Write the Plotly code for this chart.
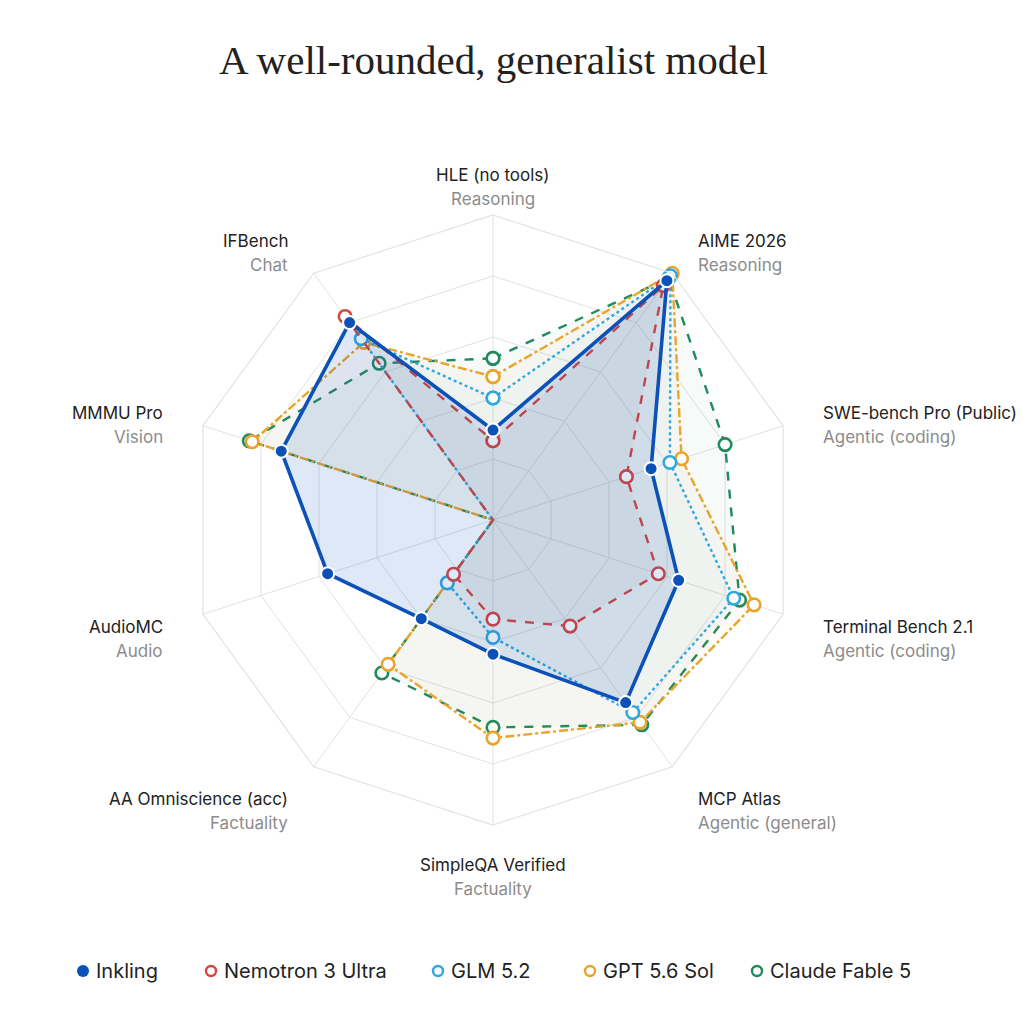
import math
import plotly.graph_objects as go

# ---------------- data ----------------
benchmarks = ["HLE (no tools)", "AIME 2026", "SWE-bench Pro (Public)", "Terminal Bench 2.1",
              "MCP Atlas", "SimpleQA Verified", "AA Omniscience (acc)", "AudioMC",
              "MMMU Pro", "IFBench"]
categories = ["Reasoning", "Reasoning", "Agentic (coding)", "Agentic (coding)",
              "Agentic (general)", "Factuality", "Factuality", "Audio", "Vision", "Chat"]

models = ["Inkling", "Nemotron 3 Ultra", "GLM 5.2", "GPT 5.6 Sol", "Claude Fable 5"]

# normalised scores (fraction of the outer ring)
inkling   = [0.295, 0.97, 0.545, 0.64, 0.74, 0.44, 0.40, 0.57, 0.73, 0.80]
nemotron  = [0.26, 0.95, 0.46, 0.57, 0.43, 0.325, 0.22, 0.0, 0.0, 0.825]
glm       = [0.40, 0.99, 0.61, 0.83, 0.78, 0.385, 0.255, 0.0, 0.0, 0.735]
gpt       = [0.47, 1.00, 0.65, 0.90, 0.82, 0.715, 0.585, 0.0, 0.83, 0.72]
claude    = [0.53, 0.98, 0.80, 0.85, 0.83, 0.68, 0.62, 0.0, 0.84, 0.635]

ring_vals = [0.2, 0.4, 0.6, 0.8, 1.0]

# ---------------- styles ----------------
colors = {
    "Inkling": "#0B51B8",
    "Nemotron 3 Ultra": "#D8453F",
    "GLM 5.2": "#2FA7E0",
    "GPT 5.6 Sol": "#E9A42B",
    "Claude Fable 5": "#1F8A5C",
}
fills = {
    "Inkling": "rgba(11,81,184,0.13)",
    "Nemotron 3 Ultra": "rgba(120,110,110,0.05)",
    "GLM 5.2": "rgba(47,167,224,0.035)",
    "GPT 5.6 Sol": "rgba(233,164,43,0.04)",
    "Claude Fable 5": "rgba(31,138,92,0.04)",
}
dashes = {
    "Inkling": "solid",
    "Nemotron 3 Ultra": "dash",
    "GLM 5.2": "dot",
    "GPT 5.6 Sol": "dashdot",
    "Claude Fable 5": "dash",
}
series = {
    "Inkling": inkling,
    "Nemotron 3 Ultra": nemotron,
    "GLM 5.2": glm,
    "GPT 5.6 Sol": gpt,
    "Claude Fable 5": claude,
}

W = H = 1024
cx, cy, R = 493, 520, 305  # pixel geometry of the radar
legend_y = 971
legend_marker_x = [83, 211, 438, 590, 757]  # layout positions of legend entries (px)
SANS = "Inter, Roboto, sans-serif"

fig = go.Figure()

# draw order: back to front
for name in ["Claude Fable 5", "GPT 5.6 Sol", "GLM 5.2", "Nemotron 3 Ultra", "Inkling"]:
    vals = series[name]
    r = list(vals) + [vals[0]]
    th = list(benchmarks) + [benchmarks[0]]
    is_main = name == "Inkling"
    fig.add_trace(go.Scatterpolar(
        r=r, theta=th, mode="lines+markers", name=name, showlegend=False,
        fill="toself", fillcolor=fills[name],
        line=dict(color=colors[name], width=3.6 if is_main else 2.4, dash=dashes[name]),
        marker=dict(size=13 if is_main else 12.5,
                    color=colors[name] if is_main else "white",
                    line=dict(color="white" if is_main else colors[name], width=2 if is_main else 2.6)),
        hoverinfo="skip",
    ))

grid_col = "#e2e2e2"
fig.update_layout(
    width=W, height=H,
    margin=dict(l=0, r=0, t=0, b=0),
    paper_bgcolor="white", plot_bgcolor="white",
    showlegend=False,
    polar=dict(
        domain=dict(x=[(cx - R) / W, (cx + R) / W], y=[(H - cy - R) / H, (H - cy + R) / H]),
        bgcolor="white",
        gridshape="linear",
        radialaxis=dict(range=[0, 1], tickvals=ring_vals, showticklabels=False, ticks="",
                        showline=False, gridcolor=grid_col, gridwidth=1.2),
        angularaxis=dict(rotation=90, direction="clockwise", showticklabels=False, ticks="",
                         showline=True, linecolor=grid_col, linewidth=1.2,
                         gridcolor=grid_col, gridwidth=1.2),
    ),
    font=dict(family=SANS),
)

# title
fig.add_annotation(text="A well-rounded, generalist model", xref="paper", yref="paper",
                   x=cx / W, y=(H - 60) / H, xanchor="center", yanchor="middle", showarrow=False,
                   font=dict(family="Liberation Serif, DejaVu Serif, serif", size=41, color="#222222"))

# axis labels
n = len(benchmarks)
for i, (b, c) in enumerate(zip(benchmarks, categories)):
    ang = math.radians(360 * i / n)
    s, co = math.sin(ang), math.cos(ang)
    px = cx + 345 * s
    py = cy - 345 * co + 12
    if s > 0.1:
        xa = "left"
    elif s < -0.1:
        xa = "right"
    else:
        xa = "center"
    fig.add_annotation(text=b, xref="paper", yref="paper", x=px / W, y=(H - (py - 12)) / H,
                       xanchor=xa, yanchor="middle", showarrow=False, align=xa,
                       font=dict(family=SANS, size=17, color="#222222"))
    fig.add_annotation(text=c, xref="paper", yref="paper", x=px / W, y=(H - (py + 12)) / H,
                       xanchor=xa, yanchor="middle", showarrow=False, align=xa,
                       font=dict(family=SANS, size=17, color="#8c8c8c"))

# legend (marker-only entries)
for name, mx in zip(models, legend_marker_x):
    is_main = name == "Inkling"
    rad = 6 if is_main else 5
    fig.add_shape(type="circle", xref="paper", yref="paper",
                  xsizemode="pixel", ysizemode="pixel",
                  xanchor=mx / W, yanchor=(H - legend_y) / H,
                  x0=-rad, x1=rad, y0=-rad, y1=rad,
                  fillcolor=colors[name] if is_main else "white",
                  line=dict(color=colors[name], width=0 if is_main else 2.4))
    fig.add_annotation(text=name, xref="paper", yref="paper", x=(mx + 11) / W,
                       y=(H - legend_y) / H, xanchor="left", yanchor="middle", showarrow=False,
                       font=dict(family=SANS, size=20, color="#222222"))

fig.write_html("out.html")
